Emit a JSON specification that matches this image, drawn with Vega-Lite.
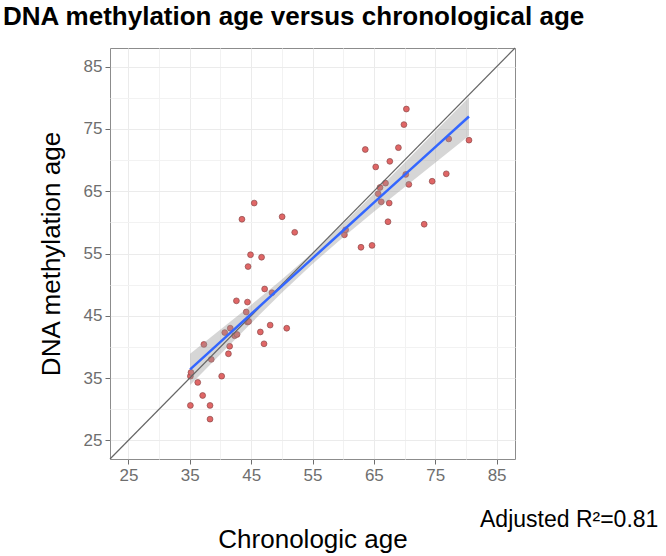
{
  "$schema": "https://vega.github.io/schema/vega-lite/v6.json",
  "autosize": "none",
  "width": 405,
  "height": 411,
  "padding": {"left": 110, "top": 48, "right": 151, "bottom": 97},
  "background": "white",
  "title": {
    "text": "DNA methylation age versus chronological age",
    "anchor": "start",
    "frame": "group",
    "font": "Liberation Sans",
    "fontSize": 26,
    "fontWeight": "bold",
    "color": "black",
    "dx": -107,
    "offset": 16
  },
  "config": {
    "view": {"stroke": "#8c8c8c", "strokeWidth": 1},
    "axis": {
      "labelFont": "Liberation Sans",
      "titleFont": "Liberation Sans",
      "labelFontSize": 17,
      "labelColor": "#6e6e6e",
      "tickColor": "#6e6e6e",
      "tickSize": 5,
      "labelPadding": 3,
      "domain": false,
      "gridColor": "#ebebeb",
      "gridWidth": 1,
      "titleFontSize": 26,
      "titleFontWeight": "normal",
      "titleColor": "black"
    }
  },
  "datasets": {
    "pts": [
      {"chrono": 35.1, "dnam": 30.6}, {"chrono": 35.1, "dnam": 35.3}, {"chrono": 35.2, "dnam": 35.9},
      {"chrono": 36.3, "dnam": 34.3}, {"chrono": 37.1, "dnam": 32.2}, {"chrono": 37.3, "dnam": 40.4},
      {"chrono": 38.3, "dnam": 30.6}, {"chrono": 38.3, "dnam": 28.4}, {"chrono": 38.5, "dnam": 38.0},
      {"chrono": 40.2, "dnam": 35.3}, {"chrono": 40.7, "dnam": 42.3}, {"chrono": 41.3, "dnam": 38.9},
      {"chrono": 41.5, "dnam": 40.1}, {"chrono": 41.6, "dnam": 43.0}, {"chrono": 42.3, "dnam": 41.8},
      {"chrono": 42.7, "dnam": 42.0}, {"chrono": 42.6, "dnam": 47.4}, {"chrono": 43.5, "dnam": 60.5},
      {"chrono": 44.4, "dnam": 47.2}, {"chrono": 44.2, "dnam": 45.6}, {"chrono": 44.4, "dnam": 44.0},
      {"chrono": 44.6, "dnam": 44.1}, {"chrono": 44.5, "dnam": 52.9}, {"chrono": 44.9, "dnam": 54.8},
      {"chrono": 45.5, "dnam": 63.1}, {"chrono": 46.5, "dnam": 42.4}, {"chrono": 46.7, "dnam": 54.4},
      {"chrono": 47.1, "dnam": 40.5}, {"chrono": 47.2, "dnam": 49.3}, {"chrono": 48.1, "dnam": 43.5},
      {"chrono": 48.4, "dnam": 48.7}, {"chrono": 50.05, "dnam": 60.9}, {"chrono": 50.8, "dnam": 43.0},
      {"chrono": 52.1, "dnam": 58.4}, {"chrono": 60.2, "dnam": 58.0}, {"chrono": 60.4, "dnam": 58.8},
      {"chrono": 62.9, "dnam": 56.0}, {"chrono": 63.6, "dnam": 71.7}, {"chrono": 64.7, "dnam": 56.3},
      {"chrono": 65.3, "dnam": 68.9}, {"chrono": 65.7, "dnam": 64.6}, {"chrono": 66.0, "dnam": 65.6},
      {"chrono": 66.2, "dnam": 63.3}, {"chrono": 66.9, "dnam": 66.3}, {"chrono": 67.3, "dnam": 60.1},
      {"chrono": 67.5, "dnam": 63.1}, {"chrono": 67.6, "dnam": 69.8}, {"chrono": 69.0, "dnam": 72.0},
      {"chrono": 69.9, "dnam": 75.7}, {"chrono": 70.3, "dnam": 78.2}, {"chrono": 70.2, "dnam": 67.7},
      {"chrono": 70.7, "dnam": 66.1}, {"chrono": 73.2, "dnam": 59.7}, {"chrono": 74.5, "dnam": 66.6},
      {"chrono": 76.8, "dnam": 67.8}, {"chrono": 77.2, "dnam": 73.4}, {"chrono": 80.5, "dnam": 73.2}
    ],
    "fit": [
      {"chrono": 35.06, "fit": 36.4, "lo": 33.9, "hi": 38.9},
      {"chrono": 40, "fit": 40.81, "lo": 38.84, "hi": 42.78},
      {"chrono": 45, "fit": 45.28, "lo": 43.81, "hi": 46.75},
      {"chrono": 50, "fit": 49.75, "lo": 48.68, "hi": 50.82},
      {"chrono": 55, "fit": 54.22, "lo": 53.32, "hi": 55.12},
      {"chrono": 60, "fit": 58.69, "lo": 57.62, "hi": 59.76},
      {"chrono": 65, "fit": 63.16, "lo": 61.69, "hi": 64.63},
      {"chrono": 70, "fit": 67.62, "lo": 65.65, "hi": 69.59},
      {"chrono": 75, "fit": 72.09, "lo": 69.59, "hi": 74.59},
      {"chrono": 80.5, "fit": 77.0, "lo": 73.9, "hi": 80.1}
    ],
    "diag": [
      {"chrono": 22, "dnam": 22},
      {"chrono": 88, "dnam": 88}
    ],
    "note": [
      {"label": "Adjusted R²=0.81", "chrono": 82.3, "dnam": 11.1}
    ]
  },
  "resolve": {"axis": {"x": "independent", "y": "independent"}},
  "layer": [
    {
      "data": {"name": "diag"},
      "mark": {"type": "line", "color": "#777777", "strokeWidth": 1, "opacity": 0},
      "encoding": {
        "x": {"field": "chrono", "type": "quantitative", "scale": {"domain": [22, 88], "nice": false, "zero": false},
              "axis": {"orient": "top", "values": [30, 40, 50, 60, 70, 80], "grid": true, "gridColor": "#f2f2f2", "labels": false, "ticks": false, "domain": false, "title": null}},
        "y": {"field": "dnam", "type": "quantitative", "scale": {"domain": [22, 88], "nice": false, "zero": false},
              "axis": {"orient": "right", "values": [30, 40, 50, 60, 70, 80], "grid": true, "gridColor": "#f2f2f2", "labels": false, "ticks": false, "domain": false, "title": null}}
      }
    },
    {
      "data": {"name": "pts"},
      "mark": {"type": "point", "filled": true, "shape": "circle", "size": 34, "fill": "#e06666", "stroke": "#8b4a4a", "strokeWidth": 0.7, "opacity": 1},
      "encoding": {
        "x": {"field": "chrono", "type": "quantitative",
              "axis": {"values": [25, 35, 45, 55, 65, 75, 85], "grid": true, "title": "Chronologic age", "titlePadding": 43}},
        "y": {"field": "dnam", "type": "quantitative",
              "axis": {"values": [25, 35, 45, 55, 65, 75, 85], "grid": true, "title": "DNA methylation age", "titlePadding": 19}}
      }
    },
    {
      "data": {"name": "fit"},
      "mark": {"type": "area", "color": "#999999", "opacity": 0.4},
      "encoding": {
        "x": {"field": "chrono", "type": "quantitative", "axis": null},
        "y": {"field": "lo", "type": "quantitative", "axis": null},
        "y2": {"field": "hi"}
      }
    },
    {
      "data": {"name": "diag"},
      "mark": {"type": "line", "color": "#666666", "strokeWidth": 1.2},
      "encoding": {
        "x": {"field": "chrono", "type": "quantitative", "axis": null},
        "y": {"field": "dnam", "type": "quantitative", "axis": null}
      }
    },
    {
      "data": {"name": "fit"},
      "mark": {"type": "line", "color": "#3366ff", "strokeWidth": 2.5},
      "encoding": {
        "x": {"field": "chrono", "type": "quantitative", "axis": null},
        "y": {"field": "fit", "type": "quantitative", "axis": null}
      }
    },
    {
      "data": {"name": "note"},
      "mark": {"type": "text", "align": "left", "baseline": "alphabetic", "font": "Liberation Sans", "fontSize": 23, "color": "black"},
      "encoding": {
        "x": {"field": "chrono", "type": "quantitative", "axis": null},
        "y": {"field": "dnam", "type": "quantitative", "axis": null},
        "text": {"field": "label"}
      }
    }
  ]
}
